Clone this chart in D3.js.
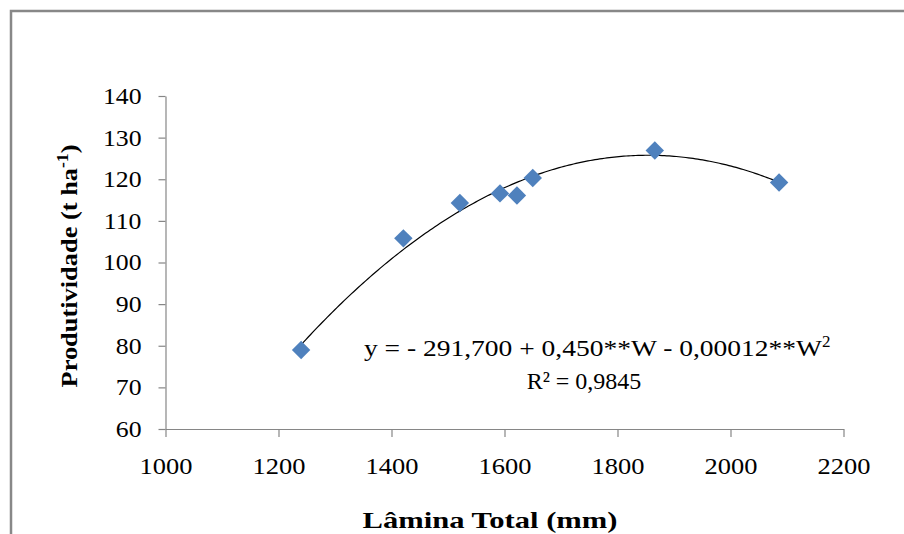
<!DOCTYPE html>
<html>
<head>
<meta charset="utf-8">
<script src="https://cdn.jsdelivr.net/npm/d3@7"></script>
<style>
  html, body { margin: 0; padding: 0; background: #fff; }
  svg { display: block; }
  svg text { font-family: "Liberation Serif", "Times New Roman", serif !important; fill: #000; }
</style>
</head>
<body>
<svg id="chart" width="904" height="534"></svg>
<script>
// Total water depth applied (mm) and yield (t/ha)
const lamina = [1240, 1421, 1521, 1592, 1622, 1650, 1866, 2086];
const produtividade = [79.0, 105.8, 114.3, 116.6, 116.1, 120.3, 126.9, 119.2];

const xTicks = [1000, 1200, 1400, 1600, 1800, 2000, 2200];
const yTicks = [60, 70, 80, 90, 100, 110, 120, 130, 140];

const equationText = "y = - 291,700 + 0,450**W - 0,00012**W";
const r2Text = "R\u00B2 = 0,9845";

const svg = d3.select("#chart");
const W = 904, H = 534;
const axisColor = "#868686";
const markerColor = "#4F81BD";

// widen glyphs horizontally by a factor, keeping the anchor
function widen(sel, factor) {
  sel.each(function () {
    const len = this.getComputedTextLength();
    d3.select(this).attr("textLength", len * factor).attr("lengthAdjust", "spacingAndGlyphs");
  });
}

// outer chart frame (right/bottom edges fall outside the view)
svg.append("rect")
  .attr("x", 11).attr("y", 11)
  .attr("width", W + 20).attr("height", H + 20)
  .attr("fill", "none")
  .attr("stroke", "#888")
  .attr("stroke-width", 2.5);

const x = d3.scaleLinear().domain([1000, 2200]).range([165.5, 843.5]);
const y = d3.scaleLinear().domain([60, 140]).range([429, 96]);

// y axis
const yAxis = svg.append("g")
  .attr("transform", `translate(${x(1000)},0)`)
  .call(d3.axisLeft(y).tickValues(yTicks).tickFormat(d3.format("d"))
    .tickSize(7).tickSizeOuter(0).tickPadding(17));
// x axis
const xAxis = svg.append("g")
  .attr("transform", `translate(0,${y(60)})`)
  .call(d3.axisBottom(x).tickValues(xTicks).tickFormat(d3.format("d"))
    .tickSize(8).tickSizeOuter(0).tickPadding(21));

[yAxis, xAxis].forEach(g => {
  g.select(".domain").attr("stroke", axisColor).attr("stroke-width", 1.2);
  g.selectAll(".tick line").attr("stroke", axisColor).attr("stroke-width", 1.2);
  g.selectAll(".tick text")
    .style("font-size", "23px")
    .attr("fill", "#000");
});
widen(yAxis.selectAll(".tick text"), 1.12);
widen(xAxis.selectAll(".tick text"), 1.15);

// quadratic least-squares trend through the observations
function quadFit(xs, ys) {
  const n = xs.length;
  const m = d3.mean(xs);
  const u = xs.map(v => (v - m) / 1000);
  let S = [0, 0, 0, 0, 0], T = [0, 0, 0];
  for (let i = 0; i < n; i++) {
    for (let k = 0; k <= 4; k++) S[k] += Math.pow(u[i], k);
    for (let k = 0; k <= 2; k++) T[k] += Math.pow(u[i], k) * ys[i];
  }
  const A = [[S[0], S[1], S[2], T[0]], [S[1], S[2], S[3], T[1]], [S[2], S[3], S[4], T[2]]];
  for (let c = 0; c < 3; c++) {
    for (let r = c + 1; r < 3; r++) {
      const f = A[r][c] / A[c][c];
      for (let k = c; k < 4; k++) A[r][k] -= f * A[c][k];
    }
  }
  const b = [0, 0, 0];
  for (let r = 2; r >= 0; r--) {
    let s = A[r][3];
    for (let k = r + 1; k < 3; k++) s -= A[r][k] * b[k];
    b[r] = s / A[r][r];
  }
  return v => { const t = (v - m) / 1000; return b[0] + b[1] * t + b[2] * t * t; };
}
const fit = quadFit(lamina, produtividade);
const xMin = d3.min(lamina), xMax = d3.max(lamina);
const trend = d3.range(0, 201).map(i => xMin + (xMax - xMin) * i / 200);

svg.append("path")
  .datum(trend)
  .attr("fill", "none")
  .attr("stroke", "#000")
  .attr("stroke-width", 1.2)
  .attr("d", d3.line().x(d => x(d)).y(d => y(fit(d))));

// observation markers (diamonds)
svg.append("g").selectAll("path")
  .data(lamina.map((v, i) => [v, produtividade[i]]))
  .join("path")
  .attr("transform", d => `translate(${x(d[0])},${y(d[1])}) rotate(45)`)
  .attr("d", d3.symbol(d3.symbolSquare, 170))
  .attr("fill", markerColor);

// regression equation
const eq = svg.append("text")
  .attr("x", 364).attr("y", 356)
  .style("font-size", "24px");
eq.append("tspan").text(equationText)
  .attr("textLength", 458).attr("lengthAdjust", "spacingAndGlyphs");
eq.append("tspan").attr("dy", -9).style("font-size", "17px").text("2");

svg.append("text")
  .attr("x", 584).attr("y", 389)
  .attr("text-anchor", "middle")
  .style("font-size", "24px")
  .text(r2Text);

// axis titles
svg.append("text")
  .attr("x", 490).attr("y", 528)
  .attr("text-anchor", "middle")
  .style("font-size", "24px")
  .attr("font-weight", "bold")
  .attr("textLength", 255).attr("lengthAdjust", "spacingAndGlyphs")
  .text("Lâmina Total (mm)");

const yt = svg.append("text")
  .attr("transform", "translate(77,266) rotate(-90) scale(1.1,1)")
  .attr("text-anchor", "middle")
  .style("font-size", "24px")
  .attr("font-weight", "bold");
yt.append("tspan").text("Produtividade (t ha");
yt.append("tspan").attr("dy", -9).style("font-size", "16px").text("-1");
yt.append("tspan").attr("dy", 9).text(")");
</script>
</body>
</html>
